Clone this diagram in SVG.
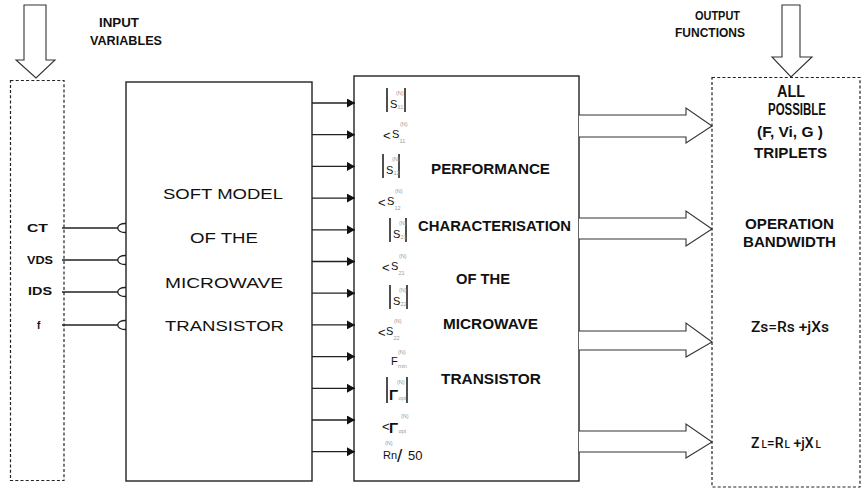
<svg xmlns="http://www.w3.org/2000/svg" width="862" height="489" viewBox="0 0 862 489">
<defs>
<style>
.box{fill:#fff;stroke:#222;stroke-width:1.4}
.dash{fill:none;stroke:#222;stroke-width:1.2;stroke-dasharray:3,2.2}
.ln{fill:none;stroke:#222;stroke-width:1.3}
.hol{fill:#fff;stroke:#333;stroke-width:1.1}
.b{font-family:"Liberation Sans",Arial,sans-serif;font-weight:bold;fill:#111}
.r{font-family:"Liberation Sans",Arial,sans-serif;fill:#111}
.m{font-family:Roboto,"Liberation Sans",sans-serif;font-weight:500;fill:#111}
.p{font-family:"Liberation Sans",Arial,sans-serif;fill:#111;font-size:11px}
.lt{font-family:"Liberation Sans",Arial,sans-serif;fill:#111;font-size:13px}
.t{font-family:"Liberation Sans",Arial,sans-serif;fill:#999;font-size:5.5px}
.bar{stroke:#222;stroke-width:1.6}
</style>
<marker id="ah" markerUnits="userSpaceOnUse" markerWidth="9" markerHeight="9" refX="8" refY="4.5" orient="auto">
<path d="M0,0 L8,4.5 L0,9 z" fill="#111"/>
</marker>
</defs>
<rect width="862" height="489" fill="#fff"/>

<g id="input-arrow">
<polygon class="hol" points="24,5 46,5 46,60 55,60 36,78 16,60 24,60"/>
</g>
<g id="input-label">
<text class="b" font-size="13.5" x="99" y="27" textLength="40" lengthAdjust="spacingAndGlyphs">INPUT</text>
<text class="b" font-size="13.5" x="90" y="45" textLength="72" lengthAdjust="spacingAndGlyphs">VARIABLES</text>
</g>

<g id="input-box">
<rect class="dash" x="10.5" y="80.5" width="53.5" height="400"/>
<text class="b" font-size="10" x="27" y="232" textLength="21" lengthAdjust="spacingAndGlyphs">CT</text>
<text class="b" font-size="10" x="27" y="264" textLength="26" lengthAdjust="spacingAndGlyphs">VDS</text>
<text class="b" font-size="10" x="28" y="295" textLength="24" lengthAdjust="spacingAndGlyphs">IDS</text>
<text class="b" font-size="10" x="37" y="329">f</text>
</g>

<g id="soft-model">
<rect class="box" x="126" y="82" width="186" height="399"/>
<text class="r" font-size="15" x="163" y="199" textLength="120" lengthAdjust="spacingAndGlyphs">SOFT MODEL</text>
<text class="r" font-size="15" x="190" y="243" textLength="68" lengthAdjust="spacingAndGlyphs">OF THE</text>
<text class="r" font-size="15" x="165" y="288" textLength="118" lengthAdjust="spacingAndGlyphs">MICROWAVE</text>
<text class="r" font-size="15" x="165" y="331" textLength="119" lengthAdjust="spacingAndGlyphs">TRANSISTOR</text>
</g>

<g id="performance">
<rect class="box" x="354" y="76" width="225" height="405"/>
<text class="b" font-size="15" x="431" y="174" textLength="119" lengthAdjust="spacingAndGlyphs">PERFORMANCE</text>
<text class="b" font-size="15" x="418" y="231" textLength="153" lengthAdjust="spacingAndGlyphs">CHARACTERISATION</text>
<text class="b" font-size="15" x="456" y="284" textLength="54" lengthAdjust="spacingAndGlyphs">OF THE</text>
<text class="b" font-size="15" x="443" y="329" textLength="95" lengthAdjust="spacingAndGlyphs">MICROWAVE</text>
<text class="b" font-size="15" x="441" y="384" textLength="100" lengthAdjust="spacingAndGlyphs">TRANSISTOR</text>
</g>

<g id="s-params">
<g id="p-s11-mag">
<line class="bar" x1="387" y1="88" x2="387" y2="112"/><line class="bar" x1="405" y1="88" x2="405" y2="112"/>
<text class="p" x="390" y="108">S</text><text class="t" x="397.5" y="109">11</text><text class="t" x="396" y="95">(N)</text>
</g>
<g id="p-s11-ang">
<text class="lt" x="383" y="140">&lt;</text><text class="p" x="392" y="138">S</text><text class="t" x="399.5" y="143">11</text><text class="t" x="400" y="126">(N)</text>
</g>
<g id="p-s12-mag">
<line class="bar" x1="383" y1="154" x2="383" y2="178"/><line class="bar" x1="399" y1="154" x2="399" y2="178"/>
<text class="p" x="386" y="174">S</text><text class="t" x="393.5" y="175">12</text><text class="t" x="392" y="161">(N)</text>
</g>
<g id="p-s12-ang">
<text class="lt" x="378" y="207">&lt;</text><text class="p" x="387" y="205">S</text><text class="t" x="394.5" y="210">12</text><text class="t" x="395" y="193">(N)</text>
</g>
<g id="p-s21-mag">
<line class="bar" x1="390" y1="218" x2="390" y2="242"/><line class="bar" x1="406" y1="218" x2="406" y2="242"/>
<text class="p" x="393" y="238">S</text><text class="t" x="400.5" y="239">21</text><text class="t" x="399" y="225">(N)</text>
</g>
<g id="p-s21-ang">
<text class="lt" x="382" y="272">&lt;</text><text class="p" x="391" y="270">S</text><text class="t" x="398.5" y="275">21</text><text class="t" x="399" y="258">(N)</text>
</g>
<g id="p-s22-mag">
<line class="bar" x1="390" y1="285" x2="390" y2="309"/><line class="bar" x1="407" y1="285" x2="407" y2="309"/>
<text class="p" x="393" y="305">S</text><text class="t" x="400.5" y="306">22</text><text class="t" x="399" y="292">(N)</text>
</g>
<g id="p-s22-ang">
<text class="lt" x="378" y="337">&lt;</text><text class="p" x="386" y="335">S</text><text class="t" x="393.5" y="340">22</text><text class="t" x="394" y="323">(N)</text>
</g>
<g id="p-fmin">
<text class="p" x="391" y="365">F</text><text class="t" x="398" y="368">min</text><text class="t" x="398" y="354">(N)</text>
</g>
<g id="p-gopt-mag">
<line class="bar" x1="387" y1="377" x2="387" y2="403"/><line class="bar" x1="407" y1="377" x2="407" y2="403"/>
<text class="b" font-size="15" x="389" y="400">Γ</text><text class="t" x="398.5" y="400">opt</text><text class="t" x="397" y="384">(N)</text>
</g>
<g id="p-gopt-ang">
<text class="lt" x="382" y="431">&lt;</text><text class="b" font-size="15" x="389" y="433">Γ</text><text class="t" x="398.5" y="433">opt</text><text class="t" x="401" y="418">(N)</text>
</g>
<g id="p-rn">
<text class="p" x="383" y="459">Rn</text><text class="r" font-size="19" x="397" y="462">/</text><text class="r" font-size="13" x="408" y="460">50</text><text class="t" x="385" y="445">(N)</text>
</g>
</g>

<g id="connectors">
<line class="ln" x1="62" y1="228" x2="118" y2="228"/>
<line class="ln" x1="62" y1="260" x2="118" y2="260"/>
<line class="ln" x1="62" y1="292" x2="118" y2="292"/>
<line class="ln" x1="62" y1="325" x2="118" y2="325"/>
<path class="ln" d="M126,223.5 C115,223 115,233 126,232.5"/>
<path class="ln" d="M126,255.5 C115,255 115,265 126,264.5"/>
<path class="ln" d="M126,287.5 C115,287 115,297 126,296.5"/>
<path class="ln" d="M126,320.5 C115,320 115,330 126,329.5"/>

<g marker-end="url(#ah)">
<line class="ln" x1="312" y1="103" x2="355" y2="103"/>
<line class="ln" x1="312" y1="134.7" x2="355" y2="134.7"/>
<line class="ln" x1="312" y1="166.4" x2="355" y2="166.4"/>
<line class="ln" x1="312" y1="198.1" x2="355" y2="198.1"/>
<line class="ln" x1="312" y1="229.8" x2="355" y2="229.8"/>
<line class="ln" x1="312" y1="261.5" x2="355" y2="261.5"/>
<line class="ln" x1="312" y1="293.2" x2="355" y2="293.2"/>
<line class="ln" x1="312" y1="324.9" x2="355" y2="324.9"/>
<line class="ln" x1="312" y1="356.6" x2="355" y2="356.6"/>
<line class="ln" x1="312" y1="388.3" x2="355" y2="388.3"/>
<line class="ln" x1="312" y1="420" x2="355" y2="420"/>
<line class="ln" x1="312" y1="451.7" x2="355" y2="451.7"/>
</g>

<polyline class="hol" points="579,115 686,115 686,108 712,126 686,143 686,137 579,137"/>
<polyline class="hol" points="579,218 686,218 686,211 712,229 686,246 686,239 579,239"/>
<polyline class="hol" points="579,331 686,331 686,323 712,342 686,357 686,350 579,350"/>
<polyline class="hol" points="579,431 686,431 686,424 712,442 686,458 686,452 579,452"/>
</g>

<g id="output-arrow">
<polygon class="hol" points="782,5 800,5 800,57 812,57 791,77 772,57 782,57"/>
</g>
<g id="output-label">
<text class="b" font-size="13.5" x="695" y="20" textLength="45" lengthAdjust="spacingAndGlyphs">OUTPUT</text>
<text class="b" font-size="13.5" x="675" y="37" textLength="70" lengthAdjust="spacingAndGlyphs">FUNCTIONS</text>
</g>

<g id="output-box">
<rect class="dash" x="712" y="77.5" width="148" height="409.5"/>
<text class="b" font-size="16" x="777" y="97" textLength="28" lengthAdjust="spacingAndGlyphs">ALL</text>
<text class="b" font-size="16" x="768" y="115" textLength="58" lengthAdjust="spacingAndGlyphs">POSSIBLE</text>
<text class="b" font-size="15.5" x="757" y="137" textLength="66" lengthAdjust="spacingAndGlyphs">(F, Vi, G )</text>
<text class="b" font-size="15.5" x="754" y="158" textLength="73" lengthAdjust="spacingAndGlyphs">TRIPLETS</text>
<text class="b" font-size="15" x="745" y="229" textLength="89" lengthAdjust="spacingAndGlyphs">OPERATION</text>
<text class="b" font-size="15" x="743" y="247" textLength="93" lengthAdjust="spacingAndGlyphs">BANDWIDTH</text>
<text class="m" font-size="14" x="751" y="332" textLength="78" lengthAdjust="spacingAndGlyphs">Zs=Rs +jXs</text>
<text class="m" font-size="14" x="751" y="448">Z<tspan font-size="10" dx="2">L</tspan>=R<tspan font-size="10" dx="1">L</tspan> +jX<tspan font-size="10" dx="2">L</tspan></text>
</g>
</svg>
